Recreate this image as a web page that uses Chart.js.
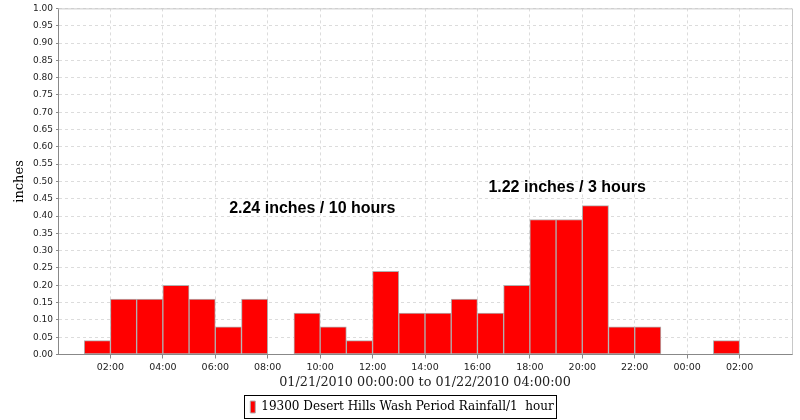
<!DOCTYPE html>
<html>
<head>
<meta charset="utf-8">
<script src="https://cdn.jsdelivr.net/npm/chart.js@4.4.1/dist/chart.umd.min.js"></script>
<style>
html,body{margin:0;padding:0;background:#fff;}
#wrap{width:800px;height:420px;position:relative;}
</style>
</head>
<body>
<div id="wrap"><canvas id="c" width="800" height="420"></canvas></div>
<script>
// Hours since 01/21/2010 00:00 at which each 1-hour bin starts
const binStartHours = [1,2,3,4,5,6,7,8,9,10,11,12,13,14,15,16,17,18,19,20,21,22,23,24,25];
// Rainfall per hour (inches)
const rainfall = [0.04,0.16,0.16,0.20,0.16,0.08,0.16,null,0.12,0.08,0.04,0.24,0.12,0.12,0.16,0.12,0.20,0.39,0.39,0.43,0.08,0.08,null,null,0.04];
// X tick positions (hours since start)
const xTickHours = [2,4,6,8,10,12,14,16,18,20,22,24,26];
const xTickLabels = ['02:00','04:00','06:00','08:00','10:00','12:00','14:00','16:00','18:00','20:00','22:00','00:00','02:00'];
const seriesName = '19300 Desert Hills Wash Period Rainfall/1  hour';
const xTitle = '01/21/2010 00:00:00 to 01/22/2010 04:00:00';
const yTitle = 'inches';
const annotationTexts = ['2.24 inches / 10 hours','1.22 inches / 3 hours'];
const annotationX = [9.7, 19.42];
const annotationY = [0.422, 0.482];

const points = binStartHours.map((h,i)=>({x:h+0.5, y:rainfall[i]}));

const framePlugin = {
  id:'frame',
  afterDatasetsDraw(chart){
    const {ctx, chartArea:a, scales} = chart;
    ctx.save();
    ctx.strokeStyle = '#c8c8c8';
    ctx.lineWidth = 1;
    ctx.beginPath();
    ctx.moveTo(a.left, a.top+0.5); ctx.lineTo(a.right+0.5, a.top+0.5);
    ctx.lineTo(a.right+0.5, a.bottom);
    ctx.stroke();
    ctx.fillStyle = '#000';
    ctx.font = 'bold 16px "Liberation Sans", Arial, sans-serif';
    ctx.textAlign = 'center';
    ctx.textBaseline = 'middle';
    annotationTexts.forEach((t,i)=>{
      ctx.fillText(t, scales.x.getPixelForValue(annotationX[i]), scales.y.getPixelForValue(annotationY[i]));
    });
    const lg = chart.legend;
    if (lg && lg.legendHitBoxes && lg.legendHitBoxes.length){
      const hb = lg.legendHitBoxes[0];
      ctx.strokeStyle = '#000';
      ctx.strokeRect(Math.round(hb.left)-5.5, Math.round(hb.top)-5.5, Math.round(hb.width)+9, Math.round(hb.height)+11);
    }
    ctx.restore();
  }
};

new Chart(document.getElementById('c'), {
  type:'bar',
  data:{
    datasets:[{
      label: seriesName,
      data: points,
      backgroundColor:'#ff0000',
      borderColor:'#b0b0b0',
      borderWidth:1,
      borderSkipped:false,
      barPercentage:1,
      categoryPercentage:1
    }]
  },
  options:{
    responsive:false,
    animation:false,
    devicePixelRatio:1,
    layout:{padding:{left:12,right:8,top:6,bottom:-3}},
    plugins:{
      tooltip:{enabled:false},
      legend:{
        position:'bottom',
        labels:{
          boxWidth:5, boxHeight:12,
          color:'#000',
          padding:6,
          font:{family:'"DejaVu Serif", serif', size:12}
        }
      }
    },
    scales:{
      x:{
        type:'linear', min:0, max:28, offset:false,
        afterBuildTicks(scale){ scale.ticks = xTickHours.map(v=>({value:v})); },
        afterFit(scale){ scale.height = 40.5; },
        ticks:{
          autoSkip:false, maxRotation:0,
          color:'#222',
          font:{family:'"DejaVu Sans", sans-serif', size:9.5},
          padding:3,
          callback(v){ const i = xTickHours.indexOf(v); return i>=0 ? xTickLabels[i] : ''; }
        },
        grid:{offset:false, color:'#dcdcdc', tickColor:'#888', tickBorderDash:[], tickLength:4, drawTicks:true},
        border:{color:'#888', width:1, dash:[3,3]},
        title:{display:true, text:xTitle, color:'#222', font:{family:'"DejaVu Serif", serif', size:12.8}, padding:{top:0,bottom:5}}
      },
      y:{
        min:0, max:1,
        afterFit(scale){ scale.width = 46; },
        ticks:{
          stepSize:0.05, color:'#222',
          font:{family:'"DejaVu Sans", sans-serif', size:9},
          padding:3,
          callback(v){ return Number(v).toFixed(2); }
        },
        grid:{color:'#dcdcdc', tickColor:'#888', tickBorderDash:[], tickLength:2, drawTicks:true},
        border:{color:'#888', width:1, dash:[3,3]},
        title:{display:true, text:yTitle, color:'#000', font:{family:'"DejaVu Serif", serif', size:13}, padding:{top:0,bottom:2}}
      }
    }
  },
  plugins:[framePlugin]
});
</script>
</body>
</html>
